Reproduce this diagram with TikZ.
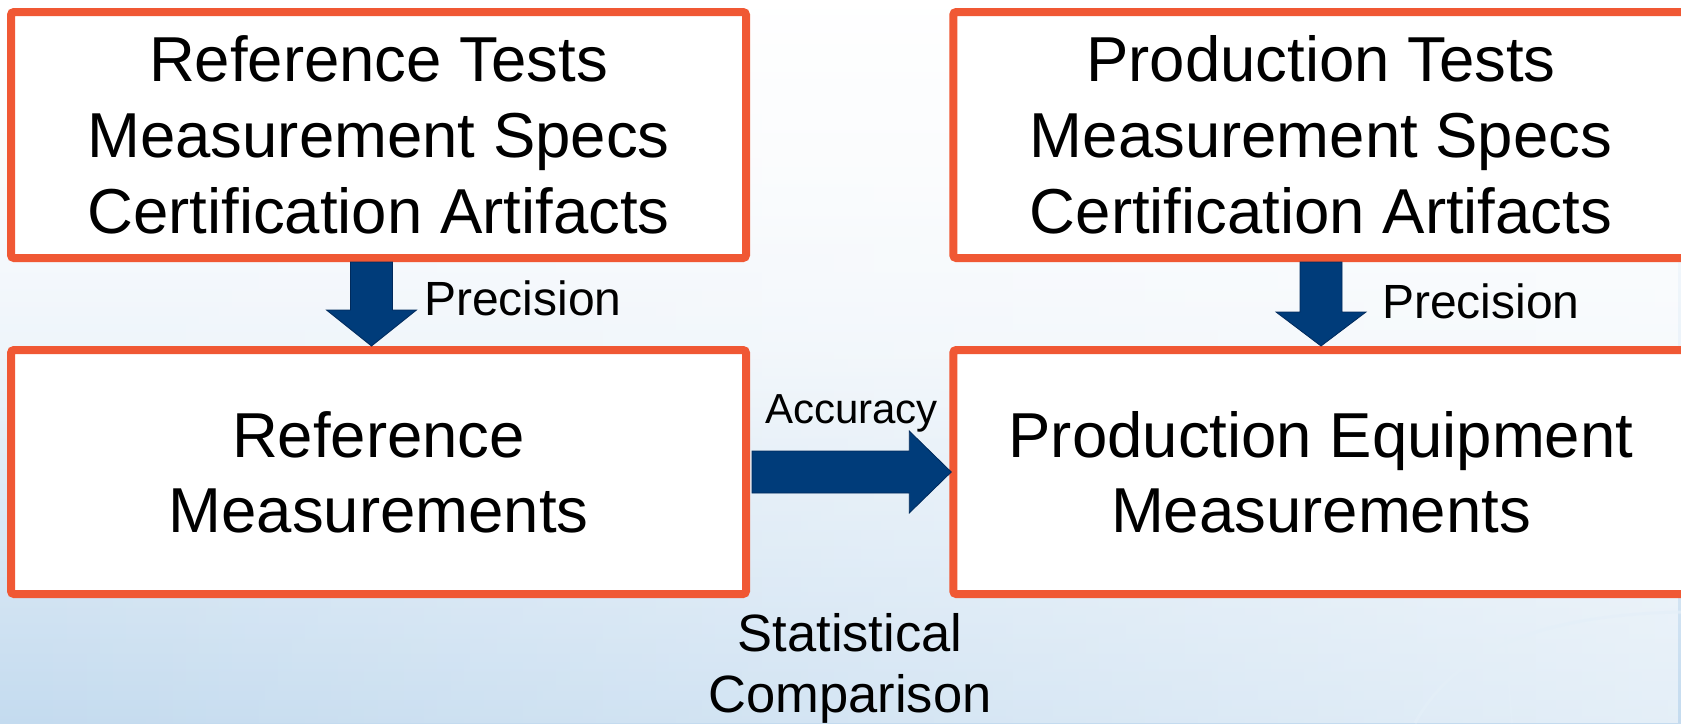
\documentclass[tikz,border=0pt]{standalone}
\usepackage{fontspec}
\setmainfont{Liberation Sans}
\usetikzlibrary{calc,fadings}
\definecolor{boxorange}{RGB}{240,88,52}
\definecolor{arrowblue}{RGB}{0,60,122}
\definecolor{arrowedge}{RGB}{0,42,92}
\definecolor{bgblue}{RGB}{196,219,239}
\begin{document}
\begin{tikzpicture}[x=1pt,y=-1pt,
  box/.style={draw=boxorange, line width=8pt, fill=white, rounded corners=3pt,
    inner sep=0pt, align=center, font=\fontsize{63.5}{76}\selectfont},
  lbl/.style={inner sep=0pt, text=black},
  blk/.style={fill=arrowblue, draw=arrowedge, line width=0.8pt, line join=miter}
]
% canvas and soft background wash
\clip (0,0) rectangle (1681,723);
\shade[top color=white, bottom color=bgblue, middle color=white!65!bgblue]
  (0,0) rectangle (1681,723);
\fill[white, opacity=0.7, path fading=south] (0,0) rectangle (1681,460);
\fill[white, opacity=0.55, path fading=west] (0,0) rectangle (1681,723);
\draw[white!55!bgblue, line width=3pt, opacity=0.7]
  (1415,723) .. controls (1455,650) and (1540,615) .. (1681,612);
\draw[white!55!bgblue, line width=2pt, opacity=0.5] (1505,635) -- (1512,723);

% boxes
\node[box, minimum width=735pt, minimum height=246pt] (tl) at (378.5,135)
  {Reference Tests\\Measurement Specs\\Certification Artifacts};
\node[box, minimum width=735pt, minimum height=244pt] (bl) at (378.5,472)
  {Reference\\[-1pt]Measurements};
\node[box, minimum width=735.5pt, minimum height=246pt] (tr) at (1321,135)
  {Production Tests\\Measurement Specs\\Certification Artifacts};
\node[box, minimum width=735.5pt, minimum height=244pt] (br) at (1321,472)
  {Production Equipment\\[-1pt]Measurements};

% block arrows
\coordinate (la) at ($(tl.south)+(-7,0)$);
\coordinate (lt) at ($(bl.north)+(-7,0)$);
\path[blk] ($(la)+(-21,0)$) -- ($(la)+(21,0)$) -- ($(la)+(21,48)$)
  -- ($(la)+(45,48)$) -- (lt) -- ($(la)+(-45,48)$) -- ($(la)+(-21,48)$) -- cycle;

\coordinate (ra) at (tr.south);
\coordinate (rt) at (br.north);
\path[blk] ($(ra)+(-21,0)$) -- ($(ra)+(21,0)$) -- ($(ra)+(21,50)$)
  -- ($(ra)+(45,50)$) -- (rt) -- ($(ra)+(-45,50)$) -- ($(ra)+(-21,50)$) -- cycle;

\coordinate (ha) at ($(bl.east)+(2,0)$);
\coordinate (ht) at ($(br.west)+(2,0)$);
\path[blk] ($(ha)+(0,-21)$) -- ($(ht)+(-42,-21)$) -- ($(ht)+(-42,-41)$)
  -- (ht) -- ($(ht)+(-42,41)$) -- ($(ht)+(-42,21)$) -- ($(ha)+(0,21)$) -- cycle;

% labels
\node[lbl, anchor=base west, font=\fontsize{48}{57}\selectfont] (p1) at (424,315) {Precision};
\node[lbl, anchor=base west, font=\fontsize{48}{57}\selectfont] (p2) at (1382,318) {Precision};
\node[lbl, anchor=base west, font=\fontsize{42}{50}\selectfont] (acc) at (765,423) {Accuracy};
\node[lbl, anchor=north, align=center, font=\fontsize{52.5}{61}\selectfont] (stat) at (850,613)
  {Statistical\\Comparison};
\end{tikzpicture}
\end{document}
